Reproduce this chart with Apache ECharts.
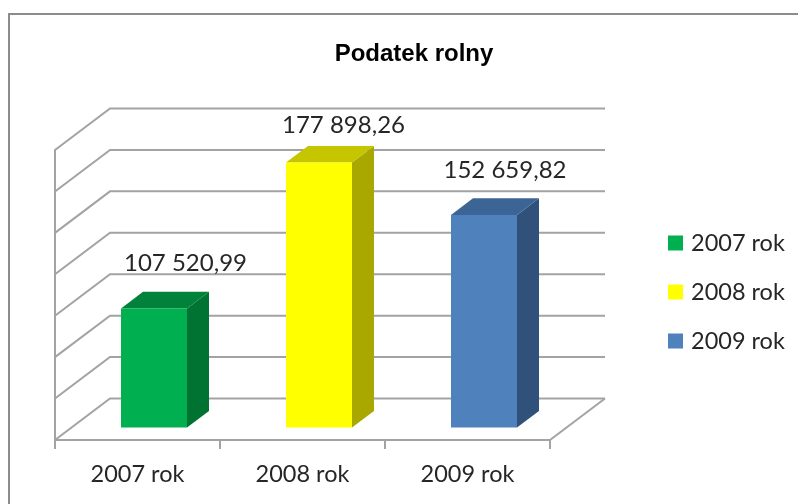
<!DOCTYPE html>
<html>
<head>
<meta charset="utf-8">
<style>
    html, body { margin: 0; padding: 0; background: #fff; }
    #main { width: 798px; height: 504px; }
</style>
<script src="https://cdn.jsdelivr.net/npm/echarts@6/dist/echarts.min.js"></script>
</head>
<body>
<div id="main"></div>
<script>
    // data
    var categories = ['2007 rok', '2008 rok', '2009 rok'];
    var values = [107520.99, 177898.26, 152659.82];
    var gridValues = [50000, 70000, 90000, 110000, 130000, 150000, 170000, 190000];

    // face colours: front, side, top
    var faceColors = [
        ['#00B050', '#007232', '#00823A'],
        ['#FFFF00', '#A8A800', '#C6C600'],
        ['#4F81BD', '#30527A', '#3C6595']
    ];
    // labels were moved by hand in the original, offset from bar front top centre
    var labelShift = [[31.5, -45], [24.5, -37], [21, -45]];

    var depthX = 55, depthY = -41.5;
    var lineColor = '#a3a3a3';
    var textFont = 'Lato';

    function fmt(v) {
        var parts = v.toFixed(2).split('.');
        return parts[0].replace(/\B(?=(\d{3})+$)/g, ' ') + ',' + parts[1];
    }

    function renderGrid(params, api) {
        var p = api.coord([0, api.value(1)]);
        var half = api.size([1, 0])[0] / 2;
        var x0 = p[0] - half;
        var pts = [[x0, p[1]], [x0 + depthX, p[1] + depthY], [x0 + depthX + half * 6, p[1] + depthY]];
        var children = [{
            type: 'polyline',
            shape: { points: pts },
            style: { fill: null, stroke: lineColor, lineWidth: 2 }
        }];
        // floor right edge
        if (params.dataIndex === 0) {
            children.push({
                type: 'line',
                shape: { x1: x0 + half * 6, y1: p[1], x2: pts[2][0], y2: pts[2][1] },
                style: { stroke: lineColor, lineWidth: 2 }
            });
        }
        return { type: 'group', children: children };
    }

    function renderBar(params, api) {
        var i = api.value(0);
        var top = api.coord([i, api.value(1)]);
        var base = api.coord([i, 50000]);
        var hw = 33;
        var f = 0.3, b = 0.7;
        var xl = top[0] - hw + depthX * f, xr = top[0] + hw + depthX * f;
        var yt = top[1] + depthY * f, yb = base[1] + depthY * f;
        var dx = depthX * (b - f), dy = depthY * (b - f);
        var c = faceColors[i];
        var shift = labelShift[i];
        return {
            type: 'group',
            children: [{
                type: 'polygon',
                shape: { points: [[xr, yt], [xr + dx, yt + dy], [xr + dx, yb + dy], [xr, yb]] },
                style: { fill: c[1] }
            }, {
                type: 'polygon',
                shape: { points: [[xl, yt], [xl + dx, yt + dy], [xr + dx, yt + dy], [xr, yt]] },
                style: { fill: c[2] }
            }, {
                type: 'rect',
                shape: { x: xl, y: yt, width: xr - xl, height: yb - yt },
                style: { fill: c[0] }
            }, {
                type: 'text',
                x: (xl + xr) / 2 + shift[0],
                y: yt + shift[1],
                style: {
                    text: fmt(api.value(1)),
                    fill: '#262626',
                    font: '24px ' + textFont,
                    textAlign: 'center',
                    textVerticalAlign: 'middle'
                }
            }]
        };
    }

    var series = [{
        type: 'custom',
        name: 'siatka',
        renderItem: renderGrid,
        clip: false,
        silent: true,
        z: 1,
        data: gridValues.map(function (v) { return [0, v]; })
    }];
    categories.forEach(function (name, i) {
        series.push({
            type: 'custom',
            name: name,
            renderItem: renderBar,
            clip: false,
            z: 2,
            itemStyle: { color: faceColors[i][0] },
            data: [[i, values[i]]]
        });
    });

    var myChart = echarts.init(document.getElementById('main'));
    var option = {
        animation: false,
        backgroundColor: '#fff',
        title: {
            text: 'Podatek rolny',
            left: 409,
            top: 37,
            textAlign: 'center',
            textStyle: {
                fontFamily: 'Liberation Sans',
                fontSize: 24,
                fontWeight: 'bold',
                color: '#000'
            }
        },
        legend: {
            data: categories,
            orient: 'vertical',
            left: 668,
            top: 231,
            padding: 0,
            icon: 'rect',
            itemWidth: 15,
            itemHeight: 15,
            itemGap: 25,
            textStyle: { fontFamily: textFont, fontSize: 23.5, color: '#262626', padding: [0, 0, 0, 3] }
        },
        grid: { left: 55, top: 150, width: 495, height: 290 },
        xAxis: {
            type: 'category',
            data: categories,
            axisLine: { show: true, lineStyle: { color: lineColor, width: 2 } },
            axisTick: { show: true, length: 9, lineStyle: { color: lineColor, width: 2 } },
            axisLabel: { fontFamily: textFont, fontSize: 23.5, color: '#262626', margin: 22 }
        },
        yAxis: {
            type: 'value',
            min: 50000,
            max: 190000,
            interval: 10000,
            axisLine: { show: true, lineStyle: { color: lineColor, width: 2 } },
            axisTick: { show: false },
            axisLabel: { show: false },
            splitLine: { show: false }
        },
        graphic: [{
            type: 'rect',
            shape: { x: 9, y: 14, width: 900, height: 600 },
            style: { fill: null, stroke: '#8c8c8c', lineWidth: 2 },
            silent: true,
            z: 0
        }],
        series: series
    };
    myChart.setOption(option);
</script>
</body>
</html>
